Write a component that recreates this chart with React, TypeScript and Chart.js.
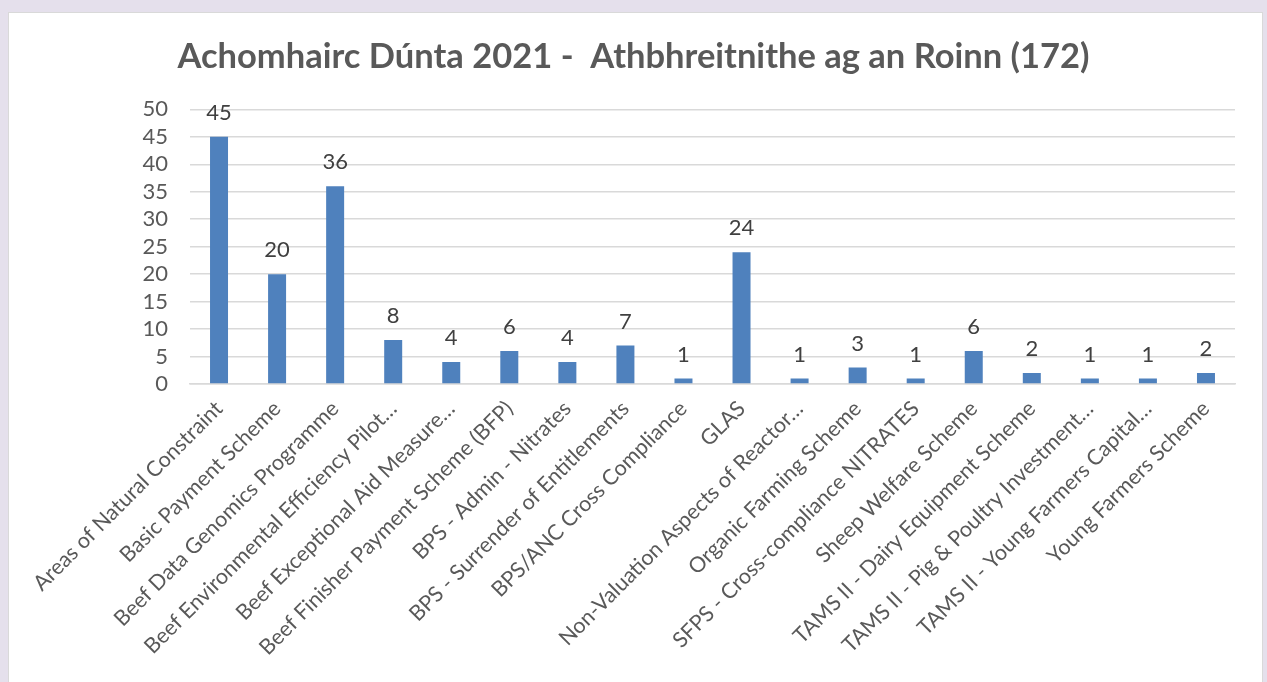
import React, { useEffect, useRef } from "react";
import { Chart, registerables } from "chart.js";

Chart.register(...registerables);

const categories = [
  "Areas of Natural Constraint",
  "Basic Payment Scheme",
  "Beef Data Genomics Programme",
  "Beef Environmental Efficiency Pilot…",
  "Beef Exceptional Aid Measure…",
  "Beef Finisher Payment Scheme (BFP)",
  "BPS - Admin - Nitrates",
  "BPS - Surrender of Entitlements",
  "BPS/ANC Cross Compliance",
  "GLAS",
  "Non-Valuation Aspects of Reactor…",
  "Organic Farming Scheme",
  "SFPS - Cross-compliance NITRATES",
  "Sheep Welfare Scheme",
  "TAMS II - Dairy Equipment Scheme",
  "TAMS II - Pig & Poultry Investment…",
  "TAMS II - Young Farmers Capital…",
  "Young Farmers Scheme",
];

const values = [45, 20, 36, 8, 4, 6, 4, 7, 1, 24, 1, 3, 1, 6, 2, 1, 1, 2];

const titleText = "Achomhairc Dúnta 2021 -  Athbhreitnithe ag an Roinn (172)";

const FONT = "Lato, 'Open Sans', sans-serif";

const dataLabelPlugin = {
  id: "dataLabels",
  afterDatasetsDraw(chart: any) {
    const ctx = chart.ctx;
    const meta = chart.getDatasetMeta(0);
    ctx.save();
    ctx.font = `22px ${FONT}`;
    ctx.fillStyle = "#404040";
    ctx.textAlign = "center";
    ctx.textBaseline = "middle";
    meta.data.forEach((bar: any, i: number) => {
      const v = chart.data.datasets[0].data[i];
      ctx.fillText(String(v), bar.x, bar.y - 24);
    });
    ctx.restore();
  },
};

export default function App() {
  const ref = useRef<HTMLCanvasElement | null>(null);

  useEffect(() => {
    if (!ref.current) return;
    const chart = new Chart(ref.current, {
      type: "bar",
      data: {
        labels: categories,
        datasets: [
          {
            data: values,
            backgroundColor: "#4f81bd",
            borderWidth: 0,
            barPercentage: 1,
            categoryPercentage: 0.31,
          },
        ],
      },
      options: {
        responsive: false,
        animation: false,
        layout: { padding: { left: 0, right: 0, top: 0, bottom: 0 } },
        plugins: {
          legend: { display: false },
          tooltip: { enabled: false },
          title: {
            display: true,
            text: titleText,
            color: "#595959",
            font: { family: FONT, size: 34.5, weight: "bold" },
            padding: { top: 36, bottom: 32 },
          },
        },
        scales: {
          x: {
            grid: { display: false, drawTicks: false },
            border: { display: true, color: "#d9d9d9", width: 1.5 },
            ticks: {
              color: "#595959",
              font: { family: FONT, size: 21.5 },
              minRotation: 45,
              maxRotation: 45,
              autoSkip: false,
              padding: 12,
            },
            afterFit(scale: any) {
              scale.height = 682 - 384;
            },
          },
          y: {
            min: 0,
            max: 50,
            grid: { color: "#d9d9d9", lineWidth: 1.5, drawTicks: false },
            border: { display: false },
            ticks: {
              stepSize: 5,
              autoSkip: false,
              color: "#595959",
              font: { family: FONT, size: 22 },
              padding: 22,
            },
            afterFit(scale: any) {
              scale.width = 190;
            },
          },
          yRight: {
            position: "right",
            min: 0,
            max: 50,
            grid: { display: false, drawTicks: false },
            border: { display: false },
            ticks: { display: false },
            afterFit(scale: any) {
              scale.width = 32;
            },
          },
        },
      },
      plugins: [dataLabelPlugin],
    });
    return () => chart.destroy();
  }, []);

  return (
    <div style={{ position: "fixed", inset: 0, background: "#e5e0ec", overflow: "hidden" }}>
      <div
        style={{
          position: "absolute",
          left: 8,
          top: 12,
          width: 1253,
          height: 690,
          background: "#ffffff",
          border: "1px solid #d9d9d9",
        }}
      />
      <canvas
        ref={ref}
        width={1267}
        height={682}
        style={{ position: "absolute", left: 0, top: 0, display: "block" }}
      />
    </div>
  );
}
